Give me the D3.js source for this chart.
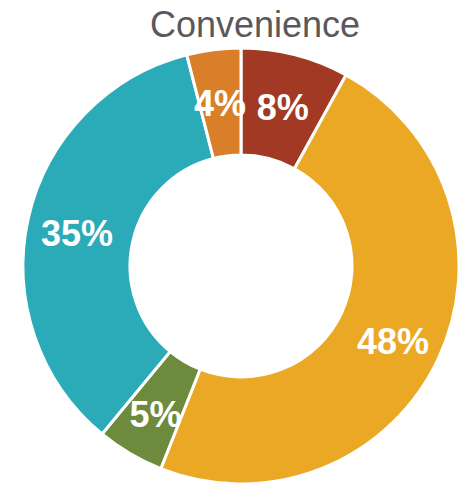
<!DOCTYPE html>
<html>
<head>
<meta charset="utf-8">
<script src="https://cdn.jsdelivr.net/npm/d3@7"></script>
<style>
  html, body { margin: 0; padding: 0; background: #fff; }
  svg { display: block; }
</style>
</head>
<body>
<svg id="chart" width="459" height="485"></svg>
<script>
// Convenience share breakdown, clockwise from 12 o'clock
const categories = ["A", "B", "C", "D", "E"];
const values = [8, 48, 5, 35, 4];
const colors = ["#A23924", "#EAA825", "#6E8B3D", "#2BAAB8", "#D97F2A"];
const title = "Convenience";

const width = 459, height = 485;
const cx = 241, cy = 266;
const outerR = 218, innerR = 111, labelR = 168;

const svg = d3.select("#chart");

svg.append("text")
  .attr("x", 255)
  .attr("y", 37)
  .attr("text-anchor", "middle")
  .attr("font-family", "Liberation Sans, Arial, sans-serif")
  .attr("font-size", 36)
  .attr("fill", "#595959")
  .text(title);

const pie = d3.pie().sort(null).value(d => d.value);
const data = pie(categories.map((c, i) => ({ cat: c, value: values[i], color: colors[i] })));

const arc = d3.arc().innerRadius(innerR).outerRadius(outerR);
const labelArc = d3.arc().innerRadius(labelR).outerRadius(labelR);

const g = svg.append("g").attr("transform", `translate(${cx},${cy})`);

g.selectAll("path")
  .data(data)
  .join("path")
  .attr("d", arc)
  .attr("fill", d => d.data.color)
  .attr("stroke", "#fff")
  .attr("stroke-width", 3)
  .attr("stroke-linejoin", "miter");

g.selectAll("text")
  .data(data)
  .join("text")
  .attr("transform", d => `translate(${labelArc.centroid(d)})`)
  .attr("text-anchor", "middle")
  .attr("dy", "0.46em")
  .attr("font-family", "Liberation Sans, Arial, sans-serif")
  .attr("font-weight", "bold")
  .attr("font-size", 36)
  .attr("fill", "#fff")
  .text(d => d.data.value + "%");
</script>
</body>
</html>
